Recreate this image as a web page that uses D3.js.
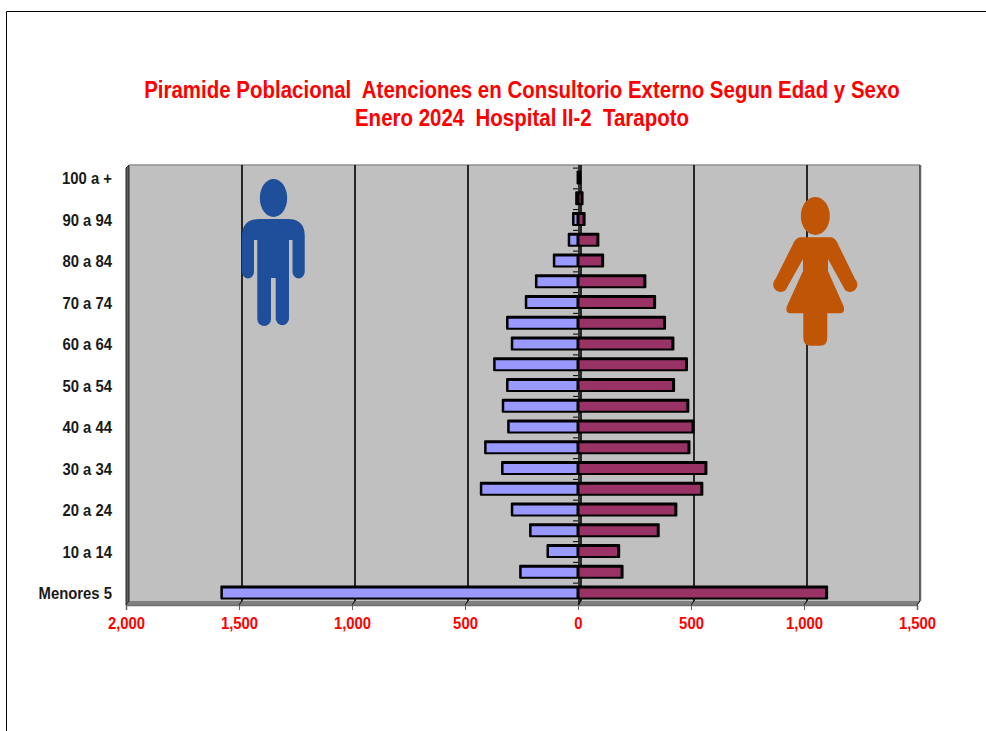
<!DOCTYPE html>
<html>
<head>
<meta charset="utf-8">
<script src="https://cdnjs.cloudflare.com/ajax/libs/d3/7.8.5/d3.min.js"></script>
<style>
html, body { margin: 0; padding: 0; background: #fff; overflow: hidden; }
svg { display: block; }
text { font-family: "Liberation Sans", Arial, sans-serif; font-weight: bold; white-space: pre; }
</style>
</head>
<body>
<svg id="chart" width="986" height="731"></svg>
<script>
const categories = ["Menores 5", "5 a 9", "10 a 14", "15 a 19", "20 a 24", "25 a 29", "30 a 34",
    "35 a 39", "40 a 44", "45 a 49", "50 a 54", "55 a 59", "60 a 64", "65 a 69", "70 a 74",
    "75 a 79", "80 a 84", "85 a 89", "90 a 94", "95 a 99", "100 a +"];
const hombres = [1578, 256, 135, 212, 293, 430, 336, 411, 309, 333, 314, 371, 293, 314, 231, 186, 107, 41, 22, 8, 2];
const mujeres = [1100, 195, 180, 355, 433, 548, 566, 491, 509, 486, 423, 480, 420, 383, 339, 296, 109, 88, 27, 18, 8];
const xTicks = [-2000, -1500, -1000, -500, 0, 500, 1000, 1500];
const yLabels = ["Menores 5", "10 a 14", "20 a 24", "30 a 34", "40 a 44", "50 a 54", "60 a 64", "70 a 74", "80 a 84", "90 a 94", "100 a +"];
const titulo = ["Piramide Poblacional  Atenciones en Consultorio Externo Segun Edad y Sexo",
    "Enero 2024  Hospital II-2  Tarapoto"];

const svg = d3.select("#chart");

const x = d3.scaleLinear().domain([-2000, 1500]).range([126, 917]);
const y = d3.scaleBand().domain(categories).range([603.4, 167.6]);
const dx = 3, dy = -4;       // depth of the fake 3d wall
const wallTop = 165, floor = 605;

// the original font is taller and narrower, squeeze the text a bit
function squeeze(sel, k) {
    sel.each(function() {
        const len = this.getComputedTextLength();
        d3.select(this).attr("textLength", len * k).attr("lengthAdjust", "spacingAndGlyphs");
    });
}

// page border, only top and left show
svg.append("path")
    .attr("d", "M6.5 731V11.5H986")
    .attr("fill", "none").attr("stroke", "#000").attr("stroke-width", 1);

svg.selectAll("text.titulo").data(titulo).join("text")
    .attr("class", "titulo")
    .attr("x", 522)
    .attr("y", (d, i) => 98 + i * 28)
    .attr("text-anchor", "middle")
    .attr("fill", "#ff0000")
    .attr("font-size", 23)
    .text(d => d)
    .call(squeeze, 0.89);

// wall
svg.append("rect")
    .attr("x", x(-2000) + dx).attr("y", wallTop)
    .attr("width", x(1500) - x(-2000)).attr("height", floor + dy - wallTop)
    .attr("fill", "#c0c0c0");
svg.append("path")
    .attr("d", `M${x(-2000)} ${floor}L${x(-2000) + dx} ${floor + dy}H${x(1500) + dx}L${x(1500)} ${floor}Z`)
    .attr("fill", "#808080");
svg.append("path")
    .attr("d", `M${x(-2000)} ${floor}V${wallTop + 3}L${x(-2000) + dx} ${wallTop}V${floor + dy}Z`)
    .attr("fill", "#606060").attr("stroke", "#222").attr("stroke-width", 1);
svg.append("line")
    .attr("x1", x(-2000) + dx).attr("x2", x(1500) + dx)
    .attr("y1", wallTop).attr("y2", wallTop)
    .attr("stroke", "#909090").attr("stroke-width", 1.5);

// grid
svg.selectAll("line.grid").data(xTicks.slice(1)).join("line")
    .attr("class", "grid")
    .attr("x1", d => x(d) + dx).attr("x2", d => x(d) + dx)
    .attr("y1", wallTop).attr("y2", floor + dy)
    .attr("stroke", d => d === 1500 ? "#404040" : "#000")
    .attr("stroke-width", 1.6);
svg.selectAll("line.gridFloor").data(xTicks.slice(1)).join("line")
    .attr("class", "gridFloor")
    .attr("x1", d => x(d) + dx).attr("x2", d => x(d))
    .attr("y1", floor + dy).attr("y2", floor)
    .attr("stroke", "#000").attr("stroke-width", 1);
svg.append("line")
    .attr("x1", x(1500) + dx + 1.5).attr("x2", x(1500) + dx + 1.5)
    .attr("y1", wallTop).attr("y2", floor + dy)
    .attr("stroke", "#d8d8d8").attr("stroke-width", 1);

// center line with the small category ticks
svg.append("line")
    .attr("x1", x(0) + 1).attr("x2", x(0) + 1)
    .attr("y1", wallTop).attr("y2", floor)
    .attr("stroke", "#000").attr("stroke-width", 1.5);
svg.selectAll("line.catTick").data(categories).join("line")
    .attr("class", "catTick")
    .attr("x1", x(0) - 5).attr("x2", x(0))
    .attr("y1", d => y(d) + 0.5).attr("y2", d => y(d) + 0.5)
    .attr("stroke", "#000").attr("stroke-width", 1);

// bars
function drawBars(name, values, sign, color) {
    const g = svg.append("g").attr("class", name);
    const left = (d) => sign < 0 ? x(-d) : x(0);
    const w = (d) => Math.abs(x(d) - x(0));
    const cy = (i) => y(categories[i]) + y.bandwidth() / 2;
    g.selectAll("rect.depth").data(values).join("rect")
        .attr("class", "depth")
        .attr("x", d => sign < 0 ? left(d) - 1 : left(d))
        .attr("y", (d, i) => cy(i) - 7.5)
        .attr("width", d => w(d) + 1.5)
        .attr("height", 14)
        .attr("fill", "#000")
        .attr("rx", 1);
    g.selectAll("rect.face").data(values).join("rect")
        .attr("class", "face")
        .attr("x", d => sign < 0 ? left(d) + 1.5 : left(d) + 1.5)
        .attr("y", (d, i) => cy(i) - 4.5)
        .attr("width", d => Math.max(w(d) - 3, 0))
        .attr("height", 9)
        .attr("fill", color);
}
drawBars("hombres", hombres, -1, "#9999ff");
drawBars("mujeres", mujeres, 1, "#993366");

// axes
const xAxis = d3.axisBottom(x)
    .tickValues(xTicks)
    .tickSize(5)
    .tickPadding(7)
    .tickFormat(d => d3.format(",")(Math.abs(d)));
const gx = svg.append("g").attr("transform", `translate(0,${floor})`).call(xAxis);
gx.select(".domain").attr("stroke", "#707070").attr("stroke-width", 1.5);
gx.selectAll(".tick line").attr("stroke", "#606060");
gx.selectAll("text").attr("fill", "#ff0000").attr("font-size", 16.5).call(squeeze, 0.9);

const yAxis = d3.axisLeft(y).tickValues(yLabels).tickSize(0).tickPadding(0);
const gy = svg.append("g").attr("transform", "translate(112,1)").call(yAxis);
gy.select(".domain").remove();
gy.selectAll("text").attr("fill", "#1a1a1a").attr("font-size", 16.5).call(squeeze, 0.9);

// figures
const hombre = svg.append("g").attr("fill", "#1f4e9b");
hombre.append("ellipse").attr("cx", 273.5).attr("cy", 198).attr("rx", 13.7).attr("ry", 19);
hombre.append("path").attr("d",
    "M242 236Q242 219 259 219H288Q304.7 219 304.7 236V272A6.1 6.5 0 0 1 292.5 272V240H289V319" +
    "A6.7 7 0 0 1 275.7 319V278H271V319A6.85 7 0 0 1 257.3 319V240H254V272A6 6.5 0 0 1 242 272Z");

const mujer = svg.append("g").attr("fill", "#c05505");
mujer.append("ellipse").attr("cx", 815.3).attr("cy", 216).attr("rx", 14.5).attr("ry", 19);
mujer.append("path").attr("d",
    "M801 237.3H830Q834.5 237.3 837 242L855 279A6 6 0 0 1 845 290L828 259V271L843.5 306" +
    "Q845.5 313.3 840 313.3H827.3V338Q827.3 345.7 820 345.7H810.5Q803.3 345.7 803.3 338V313.3H790" +
    "Q785 313.3 787 306L803 271V259L785.7 290A6 6 0 0 1 775.5 279L794 242Q796.5 237.3 801 237.3Z");
</script>
</body>
</html>
